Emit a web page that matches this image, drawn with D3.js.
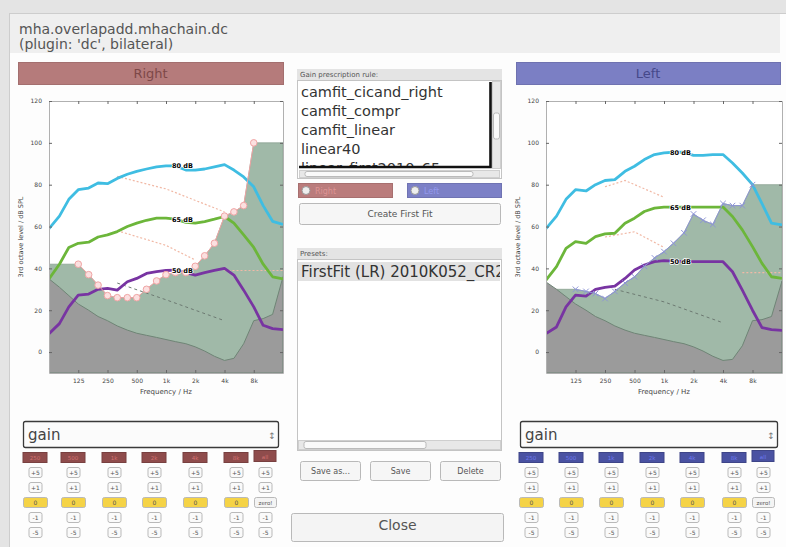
<!DOCTYPE html>
<html>
<head>
<meta charset="utf-8">
<script src="https://cdn.jsdelivr.net/npm/d3@7"></script>
<style>
  body { margin: 0; background: #e4e4e4; }
  svg { display: block; font-family: "DejaVu Sans", sans-serif; }
</style>
</head>
<body>
<div id="app"></div>
<script>
// Data
var bandFreqs = [62.5, 80, 100, 125, 160, 200, 250, 315, 400, 500, 630, 800, 1000, 1250, 1600, 2000, 2500, 3150, 4000, 5000, 6300, 8000, 10000, 12500, 16000];

var right80 = [59, 65, 73, 77.6, 78.4, 80.8, 80.5, 83, 85, 86.4, 87.5, 88.5, 89, 89, 87, 87, 87.5, 88.5, 89.6, 87, 83.7, 79, 70, 62.5, 61];
var right65 = [35, 42, 50, 52, 52.5, 55, 56, 57.6, 60, 61.6, 63, 64, 64, 63.5, 62, 61.6, 62.4, 63.5, 64.8, 61.6, 56, 50, 42, 36, 35];
var right50 = [8.8, 13.6, 21.6, 27.2, 27.7, 30, 30.4, 29.6, 33.6, 35.2, 37.6, 38.4, 39, 39.2, 38, 36.8, 38, 39, 40, 36.8, 29.6, 21.6, 12.8, 11.2, 10.7];
var rightThresh = [35, 31, 27, 23, 20, 17, 15, 12.5, 10.5, 9, 8, 7, 6, 5, 4, 2.5, 0.5, -2, -4, -3, 4, 15, 16, 18, 36];

var left80 = [59, 65, 73, 77.6, 77, 80, 82, 82.4, 86.4, 88.8, 92, 94.4, 95.2, 95.5, 95.5, 94, 94, 94.4, 94.4, 90.4, 85.6, 80, 71, 61.6, 60.8];
var left65 = [34.4, 40.8, 49.6, 52.8, 52, 55.2, 56.5, 56.8, 61.6, 64, 67.2, 68.8, 69.3, 69.3, 69.3, 69.3, 69.3, 69.3, 69.3, 64.8, 58.4, 50.4, 42.4, 36, 35.2];
var left50 = [8.8, 12, 21.6, 27.2, 26.7, 30, 30.9, 31.5, 35.2, 39.2, 41.6, 43.2, 43.7, 43.5, 43.2, 43.2, 43.2, 43.2, 43.2, 38.4, 29.6, 20, 11.7, 10.7, 10.4];
var leftThresh = [33.5, 30, 26.5, 23, 20, 17, 15, 12.5, 10.5, 9, 8, 7, 6, 5, 4, 2.5, 0.5, -2, -4, -3.5, 3, 15, 15.5, 17, 34];

var audFreqs = [125, 160, 200, 250, 315, 400, 500, 630, 800, 1000, 1250, 1600, 2000, 2500, 3150, 4000, 5000, 6300, 8000];
var rightAud = [42, 37, 32, 27, 26, 26, 26, 30, 34, 37, 38, 38, 41, 46, 52, 65, 67, 70, 100];
var leftAud = [30, 29, 28, 25.6, 29, 33, 36, 41, 45, 48, 52, 57, 66, 63, 61, 71, 70, 70, 80];

var rightDotHiF = [315, 1000, 4000], rightDotHiV = [84, 78, 67];
var rightDotMidF = [315, 1000, 2000], rightDotMidV = [58, 51, 44];
var rightDotLowF = [4000, 16000], rightDotLowV = [39, 39];
var rightDashF = [315, 1000, 4000], rightDashV = [33, 25, 15];

var leftDotHiF = [250, 400, 1000], leftDotHiV = [79, 82, 74];
var leftDotMidF = [250, 500, 1000], leftDotMidV = [55, 57.5, 50];
var leftDotLowF = [6300, 16000], leftDotLowV = [38, 38];
var leftDashF = [315, 1000, 4000], leftDashV = [30, 24, 14];

var xTicks = [125, 250, 500, 1000, 2000, 4000, 8000];
var xTickLabels = ["125", "250", "500", "1k", "2k", "4k", "8k"];
var yTicks = [0, 20, 40, 60, 80, 100, 120];
var levelLabels = ["80 dB", "65 dB", "50 dB"];

var ruleItems = ["camfit_cicand_right", "camfit_compr", "camfit_linear", "linear40", "linear_first2010_65"];
var presetItems = ["FirstFit (LR) 2010K052_CR2"];
var bandLabels = ["250", "500", "1k", "2k", "4k", "8k", "all"];
var stepLabels = ["+5", "+1", "0", "-1", "-5"];

var svg = d3.select("#app").append("svg")
    .attr("width", 786)
    .attr("height", 547);

// window frame
svg.append("rect").attr("width", 786).attr("height", 547).attr("fill", "#e4e4e4");
svg.append("rect").attr("x", 9.5).attr("y", 13.5).attr("width", 780).attr("height", 540)
    .attr("fill", "#fdfdfd").attr("stroke", "#cdcdcd");
svg.append("rect").attr("x", 10).attr("y", 14).attr("width", 770).attr("height", 39).attr("fill", "#efefef");
svg.append("text").attr("x", 19).attr("y", 33.5).attr("font-size", 14).attr("fill", "#555")
    .text("mha.overlapadd.mhachain.dc");
svg.append("text").attr("x", 19).attr("y", 49).attr("font-size", 14).attr("fill", "#555")
    .text("(plugin: 'dc', bilateral)");

function sideHeader(x, w, fill, ink, label) {
  svg.append("rect").attr("x", x + 0.5).attr("y", 62.5).attr("width", w).attr("height", 22)
      .attr("fill", fill).attr("stroke", d3.color(fill).darker(0.3));
  svg.append("text").attr("x", x + w / 2).attr("y", 78).attr("text-anchor", "middle")
      .attr("font-size", 13).attr("fill", ink).text(label);
}
sideHeader(18, 265, "#b57b7b", "#7d4848", "Right");
sideHeader(516, 264, "#7b7fc4", "#45488a", "Left");

function drawChart(o) {
  var g = svg.append("g");
  var x = d3.scaleLog().base(2).domain([62.5, 16000]).range([o.x0, o.x1]);
  var y = d3.scaleLinear().domain([-10, 120]).range([373, 101]);
  var clipId = "clip" + o.id;

  g.append("clipPath").attr("id", clipId).append("rect")
      .attr("x", o.x0).attr("y", 101).attr("width", o.x1 - o.x0).attr("height", 272);
  var plot = g.append("g").attr("clip-path", "url(#" + clipId + ")");
  plot.append("rect").attr("x", o.x0).attr("y", 101).attr("width", o.x1 - o.x0).attr("height", 272)
      .attr("fill", "#fff");

  // audiogram area, held flat out to the plot edges
  var audPts = [[62.5, o.aud[0]]]
      .concat(audFreqs.map(function(f, i) { return [f, o.aud[i]]; }))
      .concat([[16000, o.aud[o.aud.length - 1]]]);
  var area = d3.area()
      .x(function(d) { return x(d[0]); })
      .y0(y(-10))
      .y1(function(d) { return y(d[1]); });
  plot.append("path").attr("d", area(audPts))
      .attr("fill", "#a0b9a8").attr("stroke", "#8aa292").attr("stroke-width", 0.8);

  var thrPts = bandFreqs.map(function(f, i) { return [f, o.thresh[i]]; });
  plot.append("path").attr("d", area(thrPts))
      .attr("fill", "#9b9b9b").attr("stroke", "#6f8576").attr("stroke-width", 1);

  var line = d3.line()
      .x(function(d) { return x(d[0]); })
      .y(function(d) { return y(d[1]); });
  function pairs(fs, vs) { return fs.map(function(f, i) { return [f, vs[i]]; }); }

  o.dots.forEach(function(dl) {
    plot.append("path").attr("d", line(pairs(dl[0], dl[1])))
        .attr("fill", "none").attr("stroke", "#f1b9a6").attr("stroke-width", 1.2)
        .attr("stroke-dasharray", "2,2");
  });
  plot.append("path").attr("d", line(pairs(o.dash[0], o.dash[1])))
      .attr("fill", "none").attr("stroke", "#6d7a72").attr("stroke-width", 1)
      .attr("stroke-dasharray", "3,3");

  var curves = [[o.c80, "#3fbde2"], [o.c65, "#6cb63a"], [o.c50, "#7834a2"]];
  curves.forEach(function(c) {
    plot.append("path").attr("d", line(pairs(bandFreqs, c[0])))
        .attr("fill", "none").attr("stroke", c[1]).attr("stroke-width", 2.8)
        .attr("stroke-linejoin", "round");
  });

  // audiogram line and markers
  var audLine = pairs(audFreqs, o.aud);
  plot.append("path").attr("d", line(audLine))
      .attr("fill", "none").attr("stroke", o.markColor).attr("stroke-width", 1);
  if (o.marker === "circle") {
    plot.selectAll(".mk").data(audLine).enter().append("circle")
        .attr("cx", function(d) { return x(d[0]); })
        .attr("cy", function(d) { return y(d[1]); })
        .attr("r", 3.3)
        .attr("fill", "#fbe0e0").attr("stroke", o.markColor).attr("stroke-width", 1);
  } else {
    var sym = d3.symbol().type(d3.symbolX).size(22);
    plot.selectAll(".mk").data(audLine).enter().append("path")
        .attr("d", sym)
        .attr("transform", function(d) { return "translate(" + x(d[0]) + "," + y(d[1]) + ")"; })
        .attr("fill", "none").attr("stroke", o.markColor).attr("stroke-width", 1);
  }

  // level labels on the curves
  curves.forEach(function(c, i) {
    g.append("text")
        .attr("x", x(bandFreqs[13]) + 7)
        .attr("y", y(c[0][13]) + 2.5)
        .attr("text-anchor", "middle")
        .attr("font-size", 6.5).attr("font-weight", "bold")
        .attr("fill", "#000")
        .attr("stroke", "#fff").attr("stroke-width", 1.5).attr("paint-order", "stroke")
        .text(levelLabels[i]);
  });

  // axes
  var xAxis = d3.axisBottom(x).tickValues(xTicks)
      .tickFormat(function(d, i) { return xTickLabels[i]; })
      .tickSizeInner(-3).tickSizeOuter(0).tickPadding(6);
  var xTop = d3.axisTop(x).tickValues(xTicks).tickFormat("").tickSizeInner(-3).tickSizeOuter(0);
  var yAxis = d3.axisLeft(y).tickValues(yTicks).tickSizeInner(-3).tickSizeOuter(0).tickPadding(7);
  var yRight = d3.axisRight(y).tickValues(yTicks).tickFormat("").tickSizeInner(-3).tickSizeOuter(0);

  var axes = [
    g.append("g").attr("transform", "translate(0,373)").call(xAxis),
    g.append("g").attr("transform", "translate(0,101)").call(xTop),
    g.append("g").attr("transform", "translate(" + o.x0 + ",0)").call(yAxis),
    g.append("g").attr("transform", "translate(" + o.x1 + ",0)").call(yRight)
  ];
  axes.forEach(function(a) {
    a.select(".domain").attr("stroke", "#b0b0b0");
    a.selectAll(".tick line").attr("stroke", "#666");
    a.selectAll(".tick text").attr("font-size", 6).attr("fill", "#444")
        .attr("font-family", "DejaVu Sans, sans-serif");
  });

  g.append("text").attr("x", (o.x0 + o.x1) / 2).attr("y", 394).attr("text-anchor", "middle")
      .attr("font-size", 7).attr("fill", "#444").text("Frequency / Hz");
  g.append("text").attr("transform", "translate(" + (o.x0 - 26) + ",237) rotate(-90)")
      .attr("text-anchor", "middle").attr("font-size", 6.5).attr("fill", "#444")
      .text("3rd octave level / dB SPL");
}

drawChart({id: "R", x0: 49, x1: 283, c80: right80, c65: right65, c50: right50,
  thresh: rightThresh, aud: rightAud, marker: "circle", markColor: "#f0a4a4",
  dots: [[rightDotHiF, rightDotHiV], [rightDotMidF, rightDotMidV], [rightDotLowF, rightDotLowV]],
  dash: [rightDashF, rightDashV]});
drawChart({id: "L", x0: 546, x1: 782, c80: left80, c65: left65, c50: left50,
  thresh: leftThresh, aud: leftAud, marker: "x", markColor: "#8e95d6",
  dots: [[leftDotHiF, leftDotHiV], [leftDotMidF, leftDotMidV], [leftDotLowF, leftDotLowV]],
  dash: [leftDashF, leftDashV]});

// gain selector and step buttons
function button(x, y, w, h, label, fill, size) {
  svg.append("rect").attr("x", x + 0.5).attr("y", y + 0.5).attr("width", w).attr("height", h)
      .attr("rx", 2).attr("fill", fill || "#fafafa").attr("stroke", "#b9b9b9");
  svg.append("text").attr("x", x + w / 2 + 0.5).attr("y", y + h / 2 + 3)
      .attr("text-anchor", "middle").attr("font-size", size || 6).attr("fill", "#555").text(label);
}

function drawControls(x0, x1, headFill, colX) {
  svg.append("rect").attr("x", x0 + 0.5).attr("y", 421.5).attr("width", x1 - x0).attr("height", 26)
      .attr("rx", 2).attr("fill", "#fbfbfb").attr("stroke", "#3a3a3a").attr("stroke-width", 1.3);
  svg.append("text").attr("x", x0 + 5).attr("y", 440).attr("font-size", 15).attr("fill", "#444").text("gain");
  svg.append("text").attr("x", x1 - 6).attr("y", 439).attr("text-anchor", "middle")
      .attr("font-size", 9).attr("fill", "#777").text("\u2195");

  colX.forEach(function(cx, i) {
    var last = i === colX.length - 1;
    var hw = last ? 22 : 24;
    svg.append("rect").attr("x", cx - hw / 2).attr("y", last ? 450.5 : 452.5)
        .attr("width", hw).attr("height", last ? 11 : 10)
        .attr("fill", headFill).attr("stroke", d3.color(headFill).darker(0.5));
    svg.append("text").attr("x", cx).attr("y", last ? 458.5 : 460).attr("text-anchor", "middle")
        .attr("font-size", 5.5).attr("fill", d3.color(headFill).brighter(1.1)).text(bandLabels[i]);
    stepLabels.forEach(function(s, j) {
      var yy = 467 + j * 15;
      if (j === 2) {
        if (last) button(cx - 11, yy, 22, 10, "zero!", "#f4f4f4", 5.5);
        else button(cx - 12, yy, 24, 10, s, "#f5d346");
      } else {
        button(cx - 6.5, yy, 13, 10, s);
      }
    });
  });
}

drawControls(23, 278, "#8f4c4c", [35, 73, 114, 154, 195, 236, 265]);
drawControls(520, 777, "#4a52a2", [531, 571, 611, 652, 692, 734, 763]);

// middle panel: prescription rule list
svg.append("rect").attr("x", 297).attr("y", 69).attr("width", 205).attr("height", 11).attr("fill", "#e4e4e4");
svg.append("text").attr("x", 300).attr("y", 77).attr("font-size", 7).attr("fill", "#555").text("Gain prescription rule:");
svg.append("clipPath").attr("id", "ruleClip").append("rect")
    .attr("x", 298).attr("y", 80).attr("width", 192).attr("height", 87);
svg.append("rect").attr("x", 297.5).attr("y", 80.5).attr("width", 204).attr("height", 98)
    .attr("fill", "#fff").attr("stroke", "#c4c4c4");
svg.append("g").attr("clip-path", "url(#ruleClip)")
  .selectAll("text").data(ruleItems).enter().append("text")
    .attr("x", 301).attr("y", function(d, i) { return 97 + i * 19; })
    .attr("font-size", 14.5).attr("fill", "#333").text(function(d) { return d; });
svg.append("path").attr("d", "M299,167H490.5V82").attr("fill", "none").attr("stroke", "#111").attr("stroke-width", 2.6);
svg.append("rect").attr("x", 492.5).attr("y", 81.5).attr("width", 8).attr("height", 87).attr("fill", "#e8e8e8").attr("stroke", "#cfcfcf");
svg.append("rect").attr("x", 493.5).attr("y", 113).attr("width", 6).attr("height", 26).attr("rx", 2).attr("fill", "#fafafa").attr("stroke", "#bbb");
svg.append("rect").attr("x", 299.5).attr("y", 170.5).attr("width", 200).attr("height", 7).attr("fill", "#e8e8e8").attr("stroke", "#cfcfcf");
svg.append("rect").attr("x", 305).attr("y", 171.5).attr("width", 168).attr("height", 5).attr("rx", 2).attr("fill", "#fafafa").attr("stroke", "#bbb");

// ear radio buttons
function radio(x, w, fill, label) {
  svg.append("rect").attr("x", x + 0.5).attr("y", 183.5).attr("width", w).attr("height", 14)
      .attr("fill", fill).attr("stroke", d3.color(fill).darker(0.3));
  svg.append("circle").attr("cx", x + 8).attr("cy", 190.5).attr("r", 4).attr("fill", "#eee").attr("stroke", "#999");
  svg.append("text").attr("x", x + 17).attr("y", 193.5).attr("font-size", 8)
      .attr("fill", d3.color(fill).brighter(0.5)).text(label);
}
radio(298, 94, "#ba7c7c", "Right");
radio(407, 94, "#7c80c6", "Left");

button(299, 203, 201, 21, "Create First Fit", "#f6f6f6", 9);

// presets
svg.append("rect").attr("x", 297).attr("y", 248).attr("width", 205).attr("height", 11).attr("fill", "#e4e4e4");
svg.append("text").attr("x", 300).attr("y", 256).attr("font-size", 7).attr("fill", "#555").text("Presets:");
svg.append("clipPath").attr("id", "presetClip").append("rect")
    .attr("x", 298).attr("y", 259).attr("width", 202).attr("height", 180);
svg.append("rect").attr("x", 297.5).attr("y", 259.5).attr("width", 204).attr("height", 191)
    .attr("fill", "#fff").attr("stroke", "#c4c4c4");
var presetG = svg.append("g").attr("clip-path", "url(#presetClip)");
presetG.append("rect").attr("x", 298).attr("y", 262).attr("width", 203).attr("height", 19).attr("fill", "#e2e2e2");
presetG.selectAll("text").data(presetItems).enter().append("text")
    .attr("x", 301).attr("y", function(d, i) { return 277 + i * 19; })
    .attr("font-size", 15).attr("fill", "#333").text(function(d) { return d; });
svg.append("rect").attr("x", 298.5).attr("y", 440.5).attr("width", 202).attr("height", 9).attr("fill", "#e8e8e8").attr("stroke", "#cfcfcf");
svg.append("rect").attr("x", 304).attr("y", 441.5).attr("width", 122).attr("height", 7).attr("rx", 2).attr("fill", "#fafafa").attr("stroke", "#bbb");

button(300, 461, 60, 19, "Save as...", "#f6f6f6", 8);
button(370, 461, 60, 19, "Save", "#f6f6f6", 8);
button(440, 461, 60, 19, "Delete", "#f6f6f6", 8);
button(291, 513, 212, 28, "Close", "#f4f4f4", 14);
</script>
</body>
</html>
